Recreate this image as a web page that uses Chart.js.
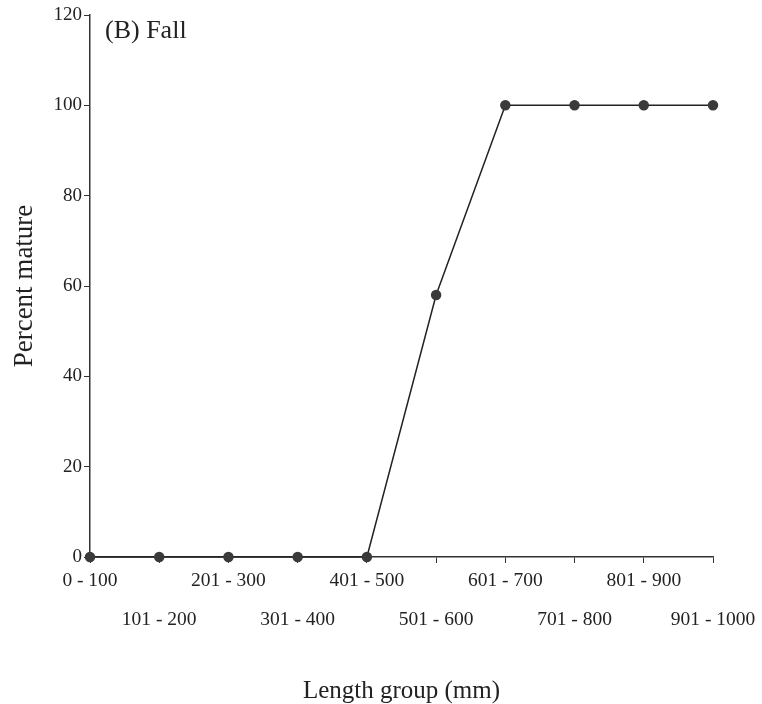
<!DOCTYPE html>
<html>
<head>
<meta charset="utf-8">
<script src="https://cdn.jsdelivr.net/npm/chart.js@4.4.1/dist/chart.umd.min.js"></script>
<style>
  html, body { margin: 0; padding: 0; background: #fff; }
  #wrap { width: 762px; height: 704px; position: relative; }
</style>
</head>
<body>
<div id="wrap"><canvas id="grafik"></canvas></div>
<script>
// Kelompok panjang dan persen matang
const kelompok = ["0 - 100", "101 - 200", "201 - 300", "301 - 400", "401 - 500",
                  "501 - 600", "601 - 700", "701 - 800", "801 - 900", "901 - 1000"];
const persenMatang = [0, 0, 0, 0, 0, 58, 100, 100, 100, 100];
const yTicks = [0, 20, 40, 60, 80, 100, 120];

const fontSerif = "'Liberation Serif', 'Times New Roman', serif";
const warnaTeks = "#222";

// Judul panel di pojok kiri atas area grafik
const judulPanel = {
    id: "judulPanel",
    afterDraw(chart) {
        const ctx = chart.ctx;
        const area = chart.chartArea;
        ctx.save();
        ctx.font = "26px " + fontSerif;
        ctx.fillStyle = warnaTeks;
        ctx.textBaseline = "middle";
        ctx.fillText("(B) Fall", area.left + 15, area.top + 16);
        ctx.restore();
    }
};

const ctx = document.getElementById("grafik").getContext("2d");
new Chart(ctx, {
    type: "line",
    data: {
        labels: kelompok,
        datasets: [{
            data: persenMatang,
            borderColor: "#222",
            borderWidth: 1.5,
            pointBackgroundColor: "#3a3a3a",
            pointBorderColor: "#3a3a3a",
            pointRadius: 4.5,
            tension: 0,
            clip: false
        }]
    },
    options: {
        responsive: true,
        maintainAspectRatio: false,
        animation: false,
        layout: { padding: { top: 15, right: 49, left: 0, bottom: 0 } },
        plugins: {
            legend: { display: false },
            tooltip: { enabled: false }
        },
        scales: {
            x: {
                offset: false,
                grid: { drawOnChartArea: false, drawTicks: true, tickLength: 6, color: "#333" },
                border: { color: "#333", width: 1.5 },
                ticks: {
                    autoSkip: false,
                    maxRotation: 0,
                    color: warnaTeks,
                    padding: -2,
                    font: { family: fontSerif, size: 19.5, lineHeight: 2 },
                    // label berselang-seling dua baris
                    callback: function (val, i) {
                        const teks = kelompok[i];
                        return i % 2 === 0 ? [teks, ""] : ["", teks];
                    }
                },
                title: {
                    display: true,
                    text: "Length group (mm)",
                    color: warnaTeks,
                    font: { family: fontSerif, size: 25 },
                    padding: { top: 30, bottom: -2 }
                },
                afterFit(scale) { scale.height = 147; }
            },
            y: {
                min: 0,
                max: 120,
                afterBuildTicks(scale) {
                    scale.ticks = yTicks.map(v => ({ value: v }));
                },
                grid: { drawOnChartArea: false, drawTicks: true, tickLength: 6, color: "#333" },
                border: { color: "#333", width: 1.5 },
                ticks: {
                    color: warnaTeks,
                    padding: 2,
                    font: { family: fontSerif, size: 19 }
                },
                title: {
                    display: true,
                    text: "Percent mature",
                    color: warnaTeks,
                    font: { family: fontSerif, size: 27 },
                    padding: { top: 9, bottom: 0 }
                },
                afterFit(scale) { scale.width = 90; }
            }
        }
    },
    plugins: [judulPanel]
});
</script>
</body>
</html>
